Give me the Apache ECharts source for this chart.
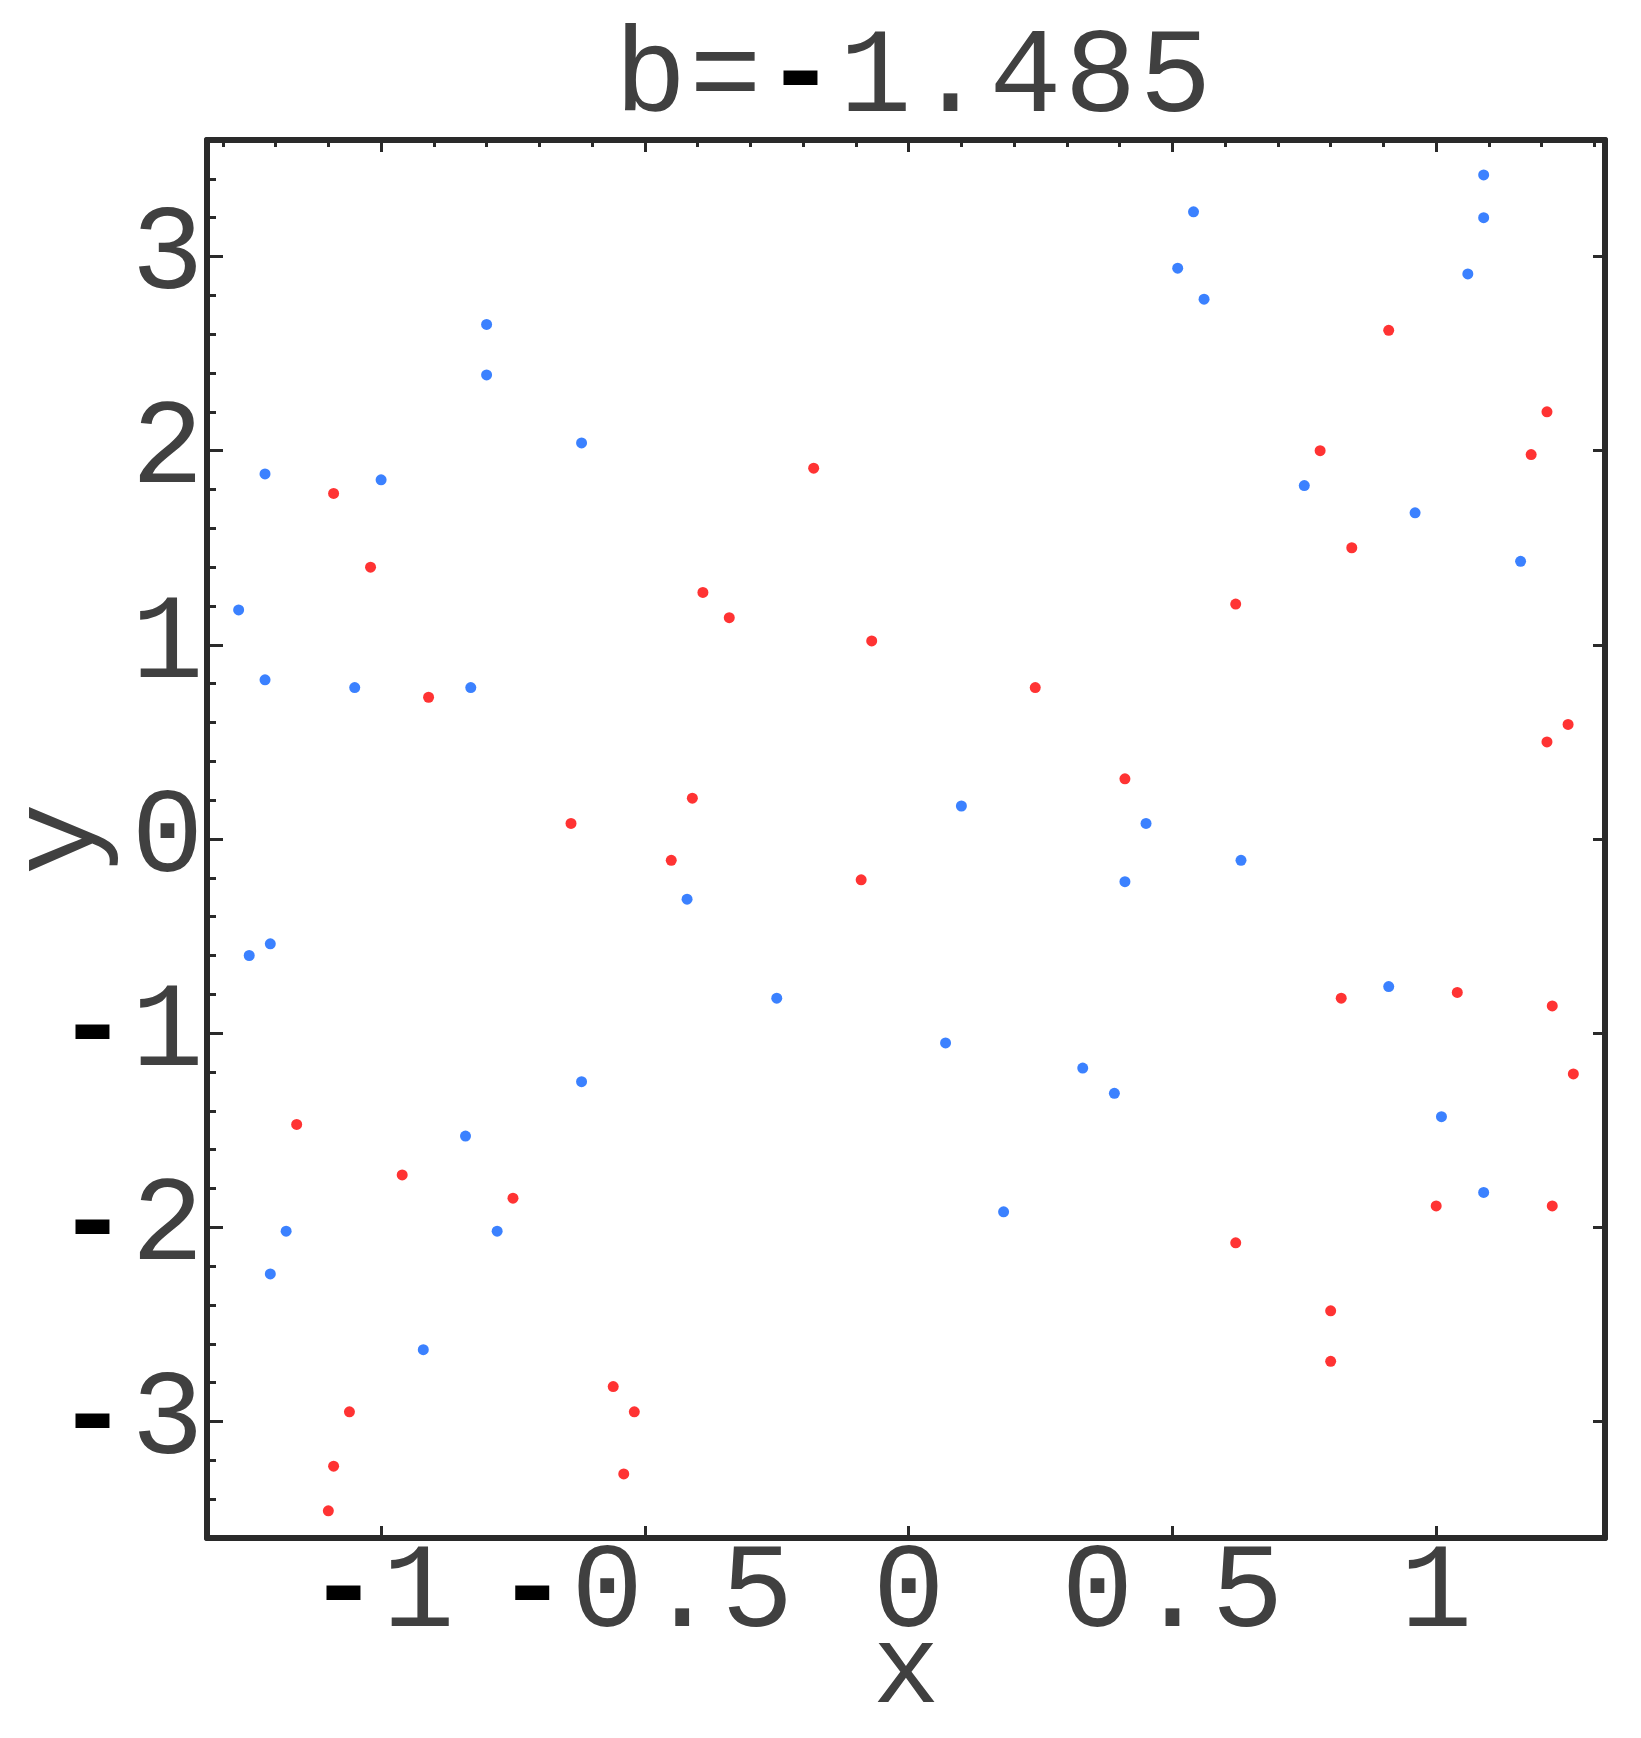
<!DOCTYPE html>
<html>
<head>
<meta charset="utf-8">
<title>b=-1.485</title>
<script src="https://cdn.jsdelivr.net/npm/echarts@6/dist/echarts.min.js"></script>
<style>
  html, body { margin: 0; padding: 0; background: #fff; }
  #main { width: 1641px; height: 1738px; }
</style>
</head>
<body>
<div id="main"></div>
<script>
  // values
  var titleText = 'b=-1.485'
  var xRange = [-1.33, 1.32]
  var yRange = [-3.6, 3.6]
  var xTicks = [-1, -0.5, 0, 0.5, 1]
  var yTicks = [-3, -2, -1, 0, 1, 2, 3]

  var redPoints = [
    [-1.09, 1.78], [-1.02, 1.40], [-0.91, 0.73], [-0.64, 0.08], [-0.18, 1.91],
    [-0.39, 1.27], [-0.34, 1.14], [-0.07, 1.02], [0.24, 0.78], [-0.41, 0.21],
    [0.41, 0.31], [0.91, 2.62], [1.21, 2.20], [0.78, 2.00], [1.18, 1.98],
    [0.84, 1.50], [0.62, 1.21], [1.25, 0.59], [1.21, 0.50], [-0.45, -0.11],
    [-1.16, -1.47], [-0.96, -1.73], [-0.75, -1.85], [-0.56, -2.82], [-0.52, -2.95],
    [-1.06, -2.95], [-1.09, -3.23], [-0.54, -3.27], [-1.10, -3.46], [-0.09, -0.21],
    [0.82, -0.82], [1.04, -0.79], [1.22, -0.86], [1.26, -1.21], [1.00, -1.89],
    [1.22, -1.89], [0.62, -2.08], [0.80, -2.43], [0.80, -2.69]
  ]
  var bluePoints = [
    [-0.80, 2.65], [-0.80, 2.39], [-0.62, 2.04], [-1.22, 1.88], [-1.00, 1.85],
    [-1.27, 1.18], [-1.22, 0.82], [-1.05, 0.78], [-0.83, 0.78], [0.10, 0.17],
    [0.45, 0.08], [1.09, 3.42], [1.09, 3.20], [0.54, 3.23], [1.06, 2.91],
    [0.51, 2.94], [0.56, 2.78], [0.75, 1.82], [0.96, 1.68], [1.16, 1.43],
    [-1.25, -0.60], [-1.21, -0.54], [-0.62, -1.25], [-0.84, -1.53], [-1.18, -2.02],
    [-0.78, -2.02], [-1.21, -2.24], [-0.92, -2.63], [-0.42, -0.31], [0.41, -0.22],
    [-0.25, -0.82], [0.07, -1.05], [0.33, -1.18], [0.39, -1.31], [0.18, -1.92],
    [0.63, -0.11], [0.91, -0.76], [1.01, -1.43], [1.09, -1.82]
  ]

  var font = 'Liberation Mono'
  var fontSize = 120
  var cell = 75
  var textColor = '#404040'
  var frameColor = '#2a2a2a'

  // every character sits in its own fixed cell, minus drawn heavy
  function spaced(s) {
    return String(s).split('').map(function (ch) {
      return ch === '-' ? '{m|-}' : '{c|' + ch + '}'
    }).join('')
  }
  var rich = {
    c: { width: cell, align: 'center', fontFamily: font, fontSize: fontSize, fontWeight: 'normal', color: textColor },
    m: { width: cell, align: 'center', fontFamily: font, fontSize: fontSize, fontWeight: 'bold', color: '#000' }
  }

  function steps(lo, hi, step) {
    var out = []
    for (var i = Math.ceil(lo / step); i * step <= hi; i++) {
      out.push(+(i * step).toFixed(3))
    }
    return out
  }
  var xMinor = steps(xRange[0], xRange[1], 0.1)
  var yMinor = steps(yRange[0], yRange[1], 0.2)

  function axisBase(range, showLine) {
    return {
      type: 'value',
      min: range[0],
      max: range[1],
      splitLine: { show: false },
      axisLine: { show: showLine, onZero: false, lineStyle: { color: frameColor, width: 6 } },
      axisLabel: { show: false }
    }
  }
  function ticks(values, len) {
    return { show: true, inside: true, length: len, customValues: values,
      lineStyle: { color: frameColor, width: 3 } }
  }
  var nameStyle = { fontFamily: font, fontSize: fontSize, color: textColor }

  var chart = echarts.init(document.getElementById('main'))
  chart.setOption({
    backgroundColor: '#fff',
    animation: false,
    title: {
      text: spaced(titleText),
      left: 613,
      top: 19,
      padding: 0,
      textStyle: { fontWeight: 'normal', rich: rich }
    },
    grid: { left: 207, top: 140, width: 1398, height: 1398, outerBoundsMode: 'none' },
    xAxis: [
      Object.assign(axisBase(xRange, true), {
        position: 'bottom',
        axisTick: ticks(xTicks, 12),
        axisLabel: { show: true, customValues: xTicks, margin: -4, formatter: spaced, rich: rich },
        name: 'x',
        nameLocation: 'middle',
        nameGap: 78,
        nameMoveOverlap: false,
        nameTextStyle: { fontFamily: font, fontSize: 112, color: textColor }
      }),
      Object.assign(axisBase(xRange, true), { position: 'top', axisTick: ticks(xTicks, 12) }),
      Object.assign(axisBase(xRange, false), { position: 'top', axisTick: ticks(xMinor, 7) })
    ],
    yAxis: [
      Object.assign(axisBase(yRange, true), {
        position: 'left',
        axisTick: ticks(yTicks, 16),
        axisLabel: { show: true, customValues: yTicks, margin: 2, formatter: spaced, rich: rich },
        name: 'y',
        nameLocation: 'middle',
        nameRotate: 90,
        nameGap: 86,
        nameMoveOverlap: false,
        nameTextStyle: nameStyle
      }),
      Object.assign(axisBase(yRange, false), { position: 'left', axisTick: ticks(yMinor, 9) }),
      Object.assign(axisBase(yRange, true), { position: 'right', axisTick: ticks(yTicks, 12) })
    ],
    series: [
      {
        name: 'red',
        type: 'scatter',
        symbol: 'circle',
        symbolSize: 11,
        itemStyle: { color: '#ff0000' },
        data: redPoints
      },
      {
        name: 'blue',
        type: 'scatter',
        symbol: 'circle',
        symbolSize: 11,
        itemStyle: { color: '#0a62ff' },
        data: bluePoints
      }
    ]
  })
</script>
</body>
</html>
